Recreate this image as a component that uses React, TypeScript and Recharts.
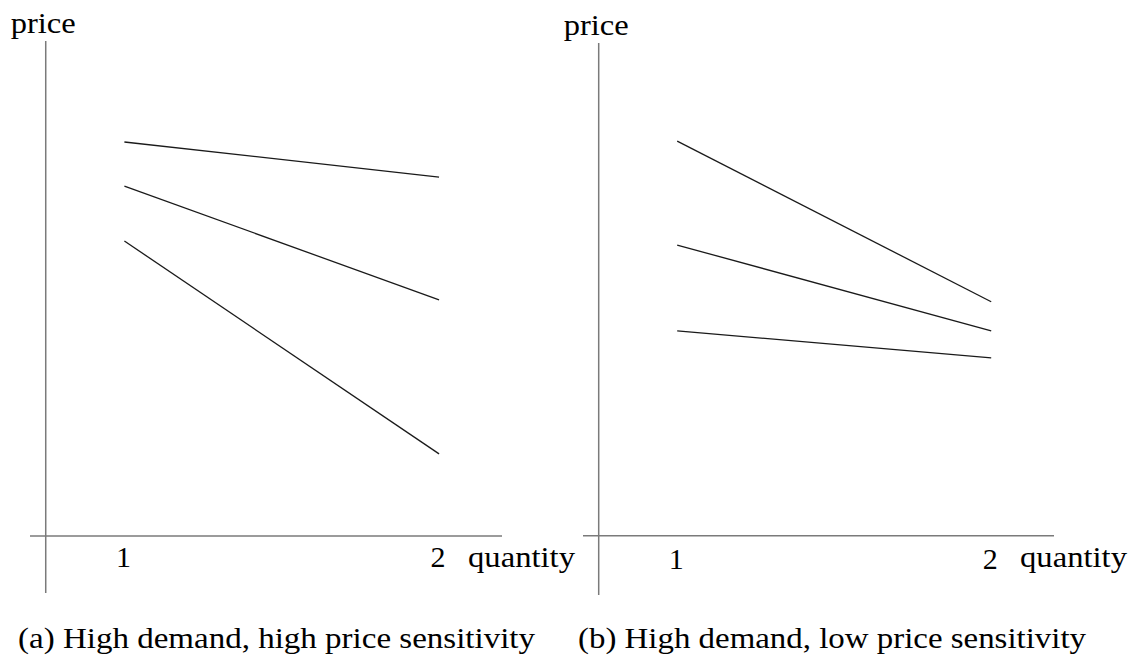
import React from "react";
import { Line, LineChart, ReferenceLine, XAxis, YAxis } from "recharts";

const quantities = [1, 2];
const quantityTicks = [1, 2];
const quantityDomain = [0.7, 2.2];
const priceAxisAt = 0.75;

// (a) high demand, high price sensitivity
const aTop = [7.96, 7.25];
const aMid = [7.07, 4.77];
const aLow = [5.96, 1.66];

// (b) high demand, low price sensitivity
const bTop = [8.01, 4.75];
const bMid = [5.9, 4.16];
const bLow = [4.16, 3.61];

const FONT = "Liberation Serif, Times New Roman, serif";
const AXIS = "#7a7a7a";
const textStyle = { fontFamily: FONT, fontSize: 30, fill: "#000" };

const toPoints = (prices: number[]) =>
  quantities.map((q, i) => ({ quantity: q, price: prices[i] }));

const panels = [
  {
    key: "a",
    caption: "(a) High demand, high price sensitivity",
    captionX: -12,
    captionW: 517,
    left: 0,
    width: 600,
    margin: { top: 41, left: 30, right: 98, bottom: 37 },
    priceDomain: [-1.15, 10],
    series: [aTop, aMid, aLow],
  },
  {
    key: "b",
    caption: "(b) High demand, low price sensitivity",
    captionX: -5,
    captionW: 508,
    left: 560,
    width: 579,
    margin: { top: 43, left: 23, right: 85, bottom: 35 },
    priceDomain: [-1.2, 10],
    series: [bTop, bMid, bLow],
  },
];

const QuantityTick = (props: any) => {
  const { x, y, payload } = props;
  return (
    <text x={x - 1} y={y - 34} textAnchor="middle" style={textStyle}>
      {payload.value}
    </text>
  );
};

const Panel = ({ p }: { p: (typeof panels)[number] }) => {
  const plotLeft = p.margin.left;
  return (
    <div style={{ position: "absolute", left: p.left, top: 0 }}>
      <LineChart width={p.width} height={660} margin={p.margin}>
        <XAxis
          type="number"
          dataKey="quantity"
          domain={quantityDomain}
          allowDataOverflow
          ticks={quantityTicks}
          axisLine={false}
          tickLine={false}
          height={30}
          tick={<QuantityTick />}
          label={{
            content: () => (
              <text
                x={plotLeft + p.captionX}
                y={648}
                style={textStyle}
                textLength={p.captionW}
                lengthAdjust="spacingAndGlyphs"
              >
                {p.caption}
              </text>
            ),
          }}
        />
        <YAxis type="number" dataKey="price" domain={p.priceDomain} allowDataOverflow hide />
        <ReferenceLine
          y={0}
          stroke={AXIS}
          strokeWidth={1.5}
          label={{
            content: (lp: any) => {
              const vb = lp.viewBox;
              return (
                <text
                  x={vb.x + vb.width - 34}
                  y={vb.y + 31}
                  style={textStyle}
                  textLength={107}
                  lengthAdjust="spacingAndGlyphs"
                >
                  quantity
                </text>
              );
            },
          }}
        />
        <ReferenceLine
          x={priceAxisAt}
          stroke={AXIS}
          strokeWidth={1.5}
          label={{
            content: (lp: any) => {
              const vb = lp.viewBox;
              return (
                <text
                  x={vb.x - 35}
                  y={vb.y - 8}
                  style={textStyle}
                  textLength={65}
                  lengthAdjust="spacingAndGlyphs"
                >
                  price
                </text>
              );
            },
          }}
        />
        {p.series.map((s, i) => (
          <Line
            key={i}
            data={toPoints(s)}
            dataKey="price"
            type="linear"
            stroke="#1a1a1a"
            strokeWidth={1.3}
            dot={false}
            activeDot={false}
            isAnimationActive={false}
          />
        ))}
      </LineChart>
    </div>
  );
};

export default function App() {
  return (
    <div
      style={{
        position: "absolute",
        left: 0,
        top: 0,
        width: 1139,
        height: 660,
        background: "#fff",
        overflow: "hidden",
      }}
    >
      {panels.map((p) => (
        <Panel key={p.key} p={p} />
      ))}
    </div>
  );
}
